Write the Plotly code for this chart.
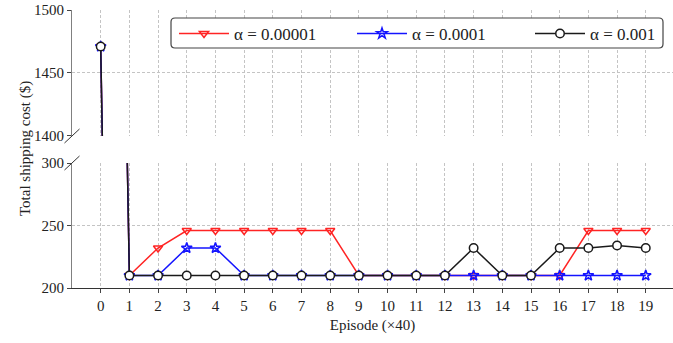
import plotly.graph_objects as go

episodes = list(range(20))
cost_a1 = [1471, 210, 232, 246, 246, 246, 246, 246, 246, 210,
           210, 210, 210, 210, 210, 210, 210, 246, 246, 246]
cost_a2 = [1471, 210, 210, 232, 232, 210, 210, 210, 210, 210,
           210, 210, 210, 210, 210, 210, 210, 210, 210, 210]
cost_a3 = [1471, 210, 210, 210, 210, 210, 210, 210, 210, 210,
           210, 210, 210, 232, 210, 210, 232, 232, 234, 232]
series_names = ["α = 0.00001", "α = 0.0001", "α = 0.001"]
x_ticks = list(range(20))
top_ticks = [1400, 1450, 1500]
bottom_ticks = [200, 250, 300]

FONT = "Liberation Serif"
W, H = 673, 343
ML, MR, MT, MB = 72, 0, 10, 55
PW, PH = W - ML - MR, H - MT - MB

styles = [
    dict(color="#ff2424", symbol="triangle-down-open", size=8, fill=None),
    dict(color="#1414ff", symbol="star-open", size=8, fill=None),
    dict(color="#1a1a1a", symbol="circle", size=8.5, fill="white"),
]
data = [cost_a1, cost_a2, cost_a3]

fig = go.Figure()
for vals, name, st in zip(data, series_names, styles):
    marker = dict(symbol=st["symbol"], size=st["size"], color=st["fill"] or st["color"],
                  line=dict(color=st["color"], width=1.5))
    for xa, ya in (("x", "y"), ("x2", "y2")):
        fig.add_trace(go.Scatter(
            x=episodes, y=vals, name=name, mode="lines+markers",
            line=dict(color=st["color"], width=1.5),
            marker=marker, xaxis=xa, yaxis=ya,
            showlegend=(ya == "y2"), legendgroup=name,
        ))

grid = dict(showgrid=True, gridcolor="#c4c4c4", griddash="3px,2px", gridwidth=0.8)
tickfont = dict(family=FONT, size=15, color="#222")
xrange = [-1, 19.95]
bottom_dom = [0, 0.4496]
top_dom = [0.5468, 1]

fig.update_layout(
    width=W, height=H,
    margin=dict(l=ML, r=MR, t=MT, b=MB, autoexpand=False),
    paper_bgcolor="white", plot_bgcolor="white",
    font=dict(family=FONT, color="#222"),
    xaxis=dict(domain=[0, 1], range=xrange, tickvals=x_ticks, ticks="outside", ticklen=4,
               tickfont=tickfont, showline=True, linecolor="#333", linewidth=1.2,
               zeroline=False, anchor="y", **grid,
               title=dict(text="Episode (×40)", font=dict(family=FONT, size=15), standoff=6)),
    xaxis2=dict(domain=[0, 1], range=xrange, tickvals=x_ticks, showticklabels=False,
                zeroline=False, anchor="y2", showline=False, **grid),
    yaxis=dict(domain=bottom_dom, range=[200, 300], tickvals=bottom_ticks, ticks="outside",
               ticklen=4, tickfont=tickfont, showline=True, linecolor="#808080", linewidth=1.2,
               zeroline=False, **grid),
    yaxis2=dict(domain=top_dom, range=[1400, 1500], tickvals=top_ticks, ticks="outside",
                ticklen=4, tickfont=tickfont, showline=True, linecolor="#808080", linewidth=1.2,
                zeroline=False, **grid),
    legend=dict(orientation="h", xref="container", yref="container",
                x=174 / W, y=1 - 16 / H, xanchor="left", yanchor="top",
                bgcolor="rgba(0,0,0,0)", borderwidth=0,
                font=dict(family=FONT, size=17), entrywidth=113, itemwidth=50,
                tracegroupgap=0),
    showlegend=True,
)

# rounded legend frame
lx0, lx1 = (171 - ML) / PW, (663 - ML) / PW
ly1, ly0 = 1 - (18 - MT) / PH, 1 - (48 - MT) / PH
rx, ry = 4 / PW, 4 / PH
frame = (f"M {lx0 + rx},{ly1} L {lx1 - rx},{ly1} Q {lx1},{ly1} {lx1},{ly1 - ry} "
         f"L {lx1},{ly0 + ry} Q {lx1},{ly0} {lx1 - rx},{ly0} "
         f"L {lx0 + rx},{ly0} Q {lx0},{ly0} {lx0},{ly0 + ry} "
         f"L {lx0},{ly1 - ry} Q {lx0},{ly1} {lx0 + rx},{ly1} Z")
fig.add_shape(type="path", path=frame, xref="paper", yref="paper", layer="above",
              fillcolor="white", line=dict(color="#444", width=1.2))

# y axis title spanning both panels
fig.add_annotation(text="Total shipping cost ($)", xref="paper", yref="paper",
                   x=(25 - ML) / PW, y=0.5, xanchor="center", yanchor="middle", textangle=-90,
                   showarrow=False, font=dict(family=FONT, size=15, color="#222"))

# axis-break slashes on the left spine
for yv in (top_dom[0], bottom_dom[1]):
    fig.add_shape(type="line", xref="paper", yref="paper",
                  x0=-7.5 / PW, x1=7.5 / PW, y0=yv - 7 / PH, y1=yv + 7 / PH,
                  line=dict(color="#333", width=1))

fig.write_html("out.html")
